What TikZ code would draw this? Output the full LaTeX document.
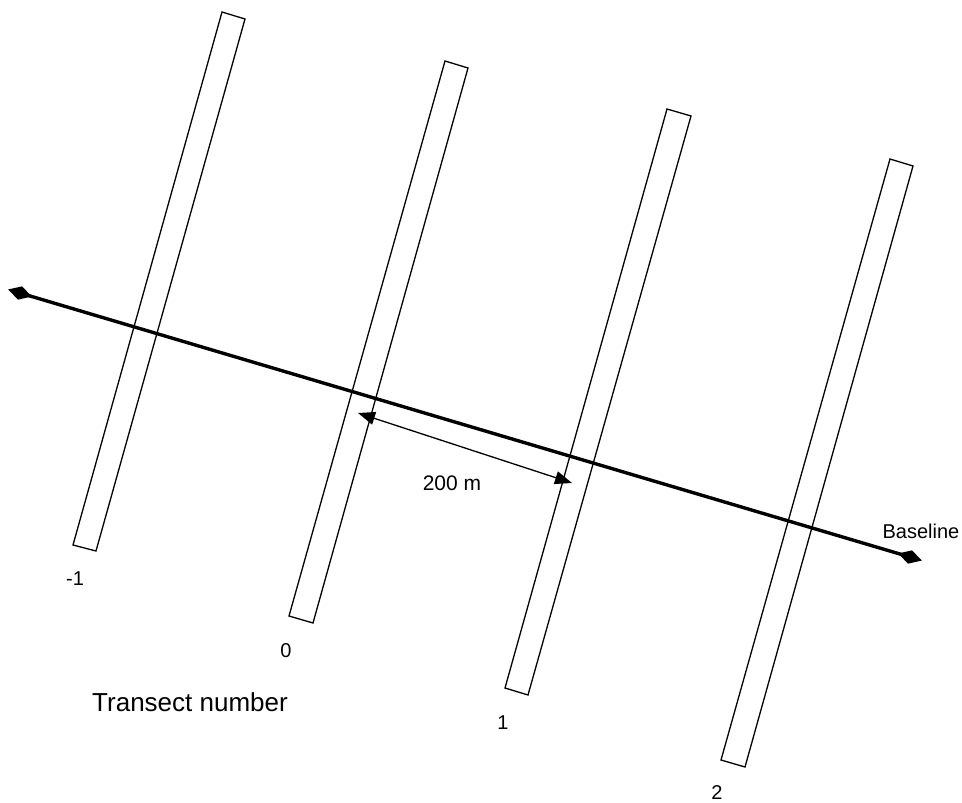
\documentclass[tikz,border=0pt]{standalone}
\usepackage{fontspec}
\setmainfont{Liberation Sans}
\usetikzlibrary{arrows.meta,shapes.geometric}
\begin{document}
\begin{tikzpicture}[x=1pt,y=-1pt,
  strip/.style={draw=black, line width=1.3pt, line join=miter},
  endmark/.style={diamond, fill=black, inner sep=0pt, minimum width=25pt, minimum height=14pt, rotate=-16.5},
  baseln/.style={line width=3.4pt},
  dimarrow/.style={line width=1.3pt, {Triangle[length=17pt,width=13pt]}-{Triangle[length=17pt,width=13pt]}},
  numlbl/.style={inner sep=0pt, font=\fontsize{20}{22}\selectfont},
  bigtxt/.style={inner sep=0pt, font=\fontsize{21}{24}\selectfont}
]
\useasboundingbox (0,0) rectangle (962,803);
% transect strips
\draw[strip] (222,12) -- (245,19) -- (96,551) -- (73,545) -- cycle;
\draw[strip] (445,61) -- (468,68) -- (313,623) -- (289,616) -- cycle;
\draw[strip] (667,109) -- (691,116) -- (528,695) -- (505,688) -- cycle;
\draw[strip] (890,159) -- (913,166) -- (745,767) -- (721,760) -- cycle;
% baseline
\node[endmark] (L) at (20,293) {};
\node[endmark] (R) at (910,557) {};
\draw[baseln] (L.center) -- (R.center);
% 200 m dimension
\coordinate (A1) at (358,413);
\coordinate (A2) at (572,483);
\draw[dimarrow] (A1) -- (A2);
\node[bigtxt] (dist) at (452,483) {200 m};
\node[bigtxt] (bl) at (921,531) {\fontsize{20}{24}\selectfont Baseline};
\node[inner sep=0pt, font=\fontsize{26}{30}\selectfont] (tn) at (190,702) {Transect number};
\node[numlbl] (n1) at (75,579) {-1};
\node[numlbl] (n2) at (286,651) {0};
\node[numlbl] (n3) at (503,723) {1};
\node[numlbl] (n4) at (717,793) {2};
\end{tikzpicture}
\end{document}
